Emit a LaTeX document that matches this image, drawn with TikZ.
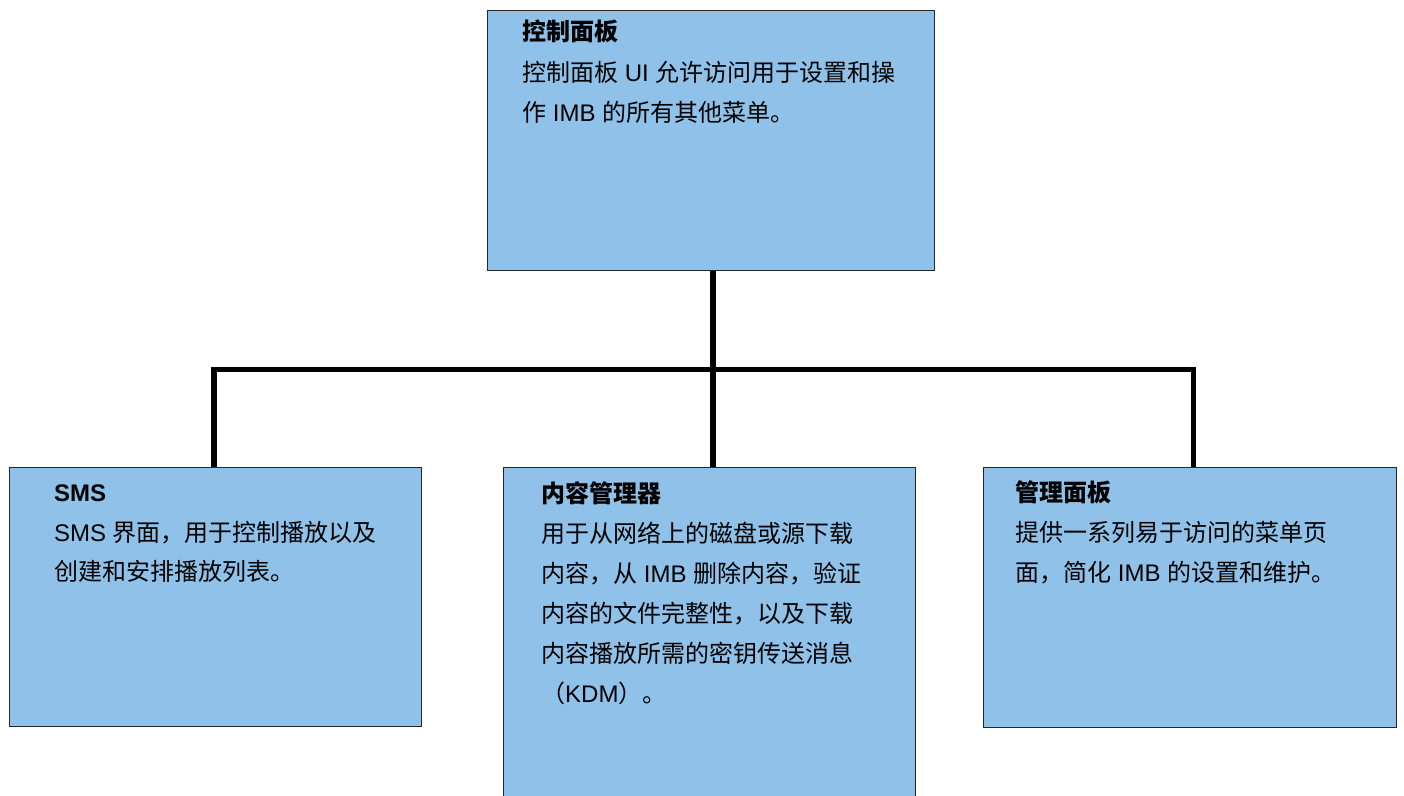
\documentclass[tikz,border=0pt]{standalone}
\usepackage{fontspec}
\setmainfont{Liberation Sans}
\newfontfamily\cjk{Noto Sans CJK SC}
\newcommand\zh[1]{{\cjk #1}}
\definecolor{boxblue}{RGB}{143,193,233}
\begin{document}
\begin{tikzpicture}[x=1pt,y=-1pt,
  box/.style={draw=black!85,line width=1.3pt,fill=boxblue,rectangle,anchor=north west,inner sep=0pt},
  conn/.style={line width=5.5pt,line join=miter,black},
  txt/.style={anchor=base west,inner sep=0pt,font=\fontsize{24}{28}\selectfont},
  ttl/.style={txt,font=\fontsize{24}{28}\selectfont\bfseries}]
\clip (0,0) rectangle (1404,795);
\fill[white] (0,0) rectangle (1404,795);
% boxes
\node[box,minimum width=447pt,minimum height=260pt] (top) at (487,10) {};
\node[box,minimum width=412pt,minimum height=259pt] (sms) at (9,467) {};
\node[box,minimum width=412pt,minimum height=345pt] (content) at (503,467) {};
\node[box,minimum width=413pt,minimum height=260pt] (mgr) at (983,467) {};
% connectors
\coordinate (j1) at (214,369.5);
\coordinate (j2) at (713,369.5);
\coordinate (j3) at (1193.5,369.5);
\draw[conn] (sms.north -| j1) -- (j1) -- (j3) -- (j3 |- mgr.north);
\draw[conn] (top.south -| j2) -- (j2 |- content.north);
% top text
\node[ttl] (t0) at (522,40) {\zh{控制面板}};
\node[txt] (t1) at (522,81) {\zh{控制面板} UI \zh{允许访问用于设置和操}};
\node[txt] (t2) at (522,121) {\zh{作} IMB \zh{的所有其他菜单。}};
% sms text
\node[ttl] (s0) at (54,501) {SMS};
\node[txt] (s1) at (54,541) {SMS \zh{界面，用于控制播放以及}};
\node[txt] (s2) at (54,580) {\zh{创建和安排播放列表。}};
% content text
\node[ttl] (c0) at (541,502) {\zh{内容管理器}};
\node[txt] (c1) at (541,542) {\zh{用于从网络上的磁盘或源下载}};
\node[txt] (c2) at (541,582) {\zh{内容，从} IMB \zh{删除内容，验证}};
\node[txt] (c3) at (541,622) {\zh{内容的文件完整性，以及下载}};
\node[txt] (c4) at (541,662) {\zh{内容播放所需的密钥传送消息}};
\node[txt] (c5) at (541,702) {\zh{（}KDM\zh{）。}};
% manager text
\node[ttl] (m0) at (1015,501) {\zh{管理面板}};
\node[txt] (m1) at (1015,541) {\zh{提供一系列易于访问的菜单页}};
\node[txt] (m2) at (1015,581) {\zh{面，简化} IMB \zh{的设置和维护。}};
\end{tikzpicture}
\end{document}
